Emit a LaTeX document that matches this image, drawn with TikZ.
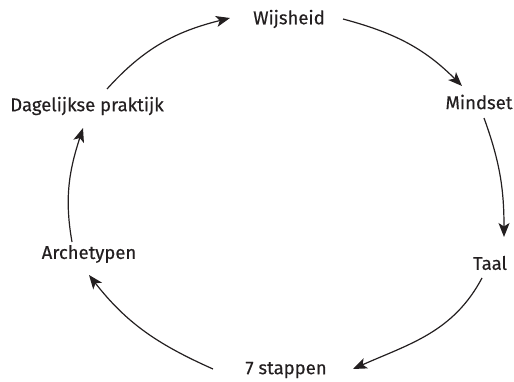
\documentclass[tikz,border=0pt]{standalone}
\usepackage{fontspec}
\setmainfont{Fira Sans}[FakeBold=0.4]
\usetikzlibrary{arrows.meta}
\definecolor{ink}{HTML}{231F20}
\begin{document}
\begin{tikzpicture}[x=1pt,y=1pt,
  lbl/.style={text=ink,font=\fontsize{18.5}{22}\selectfont,inner sep=0pt},
  cyc/.style={draw=ink,line width=1.2pt,-{Stealth[length=14pt,width=11pt,inset=3.5pt]}}]
\useasboundingbox (0,0) rectangle (514,381);
\node[lbl] (wij) at (289,362) {Wijsheid};
\node[lbl] (min) at (479,279) {Mindset};
\node[lbl] (taal) at (490,118) {Taal};
\node[lbl] (zeven) at (286,11) {7 stappen};
\node[lbl] (arch) at (89,127) {Archetypen};
\node[lbl] (dag) at (87,275) {Dagelijkse praktijk};
\draw[cyc] ([shift={(20,17)}]dag.center) to[out=48,in=194] ([shift={(-59,1)}]wij.center);
\draw[cyc] ([shift={(54,0)}]wij.center) to[out=-15,in=135] ([shift={(-17,16)}]min.center);
\draw[cyc] ([shift={(5,-16)}]min.center) to[out=-70,in=90] ([shift={(14,26)}]taal.center);
\draw[cyc] ([shift={(-8,-15)}]taal.center) to[out=-118,in=24] ([shift={(67,1)}]zeven.center);
\draw[cyc] ([shift={(-73,1)}]zeven.center) to[out=156,in=-52] ([shift={(0,-21)}]arch.center);
\draw[cyc] ([shift={(-17,12)}]arch.center) to[out=100,in=-108] ([shift={(-4,-22)}]dag.center);
\end{tikzpicture}
\end{document}
